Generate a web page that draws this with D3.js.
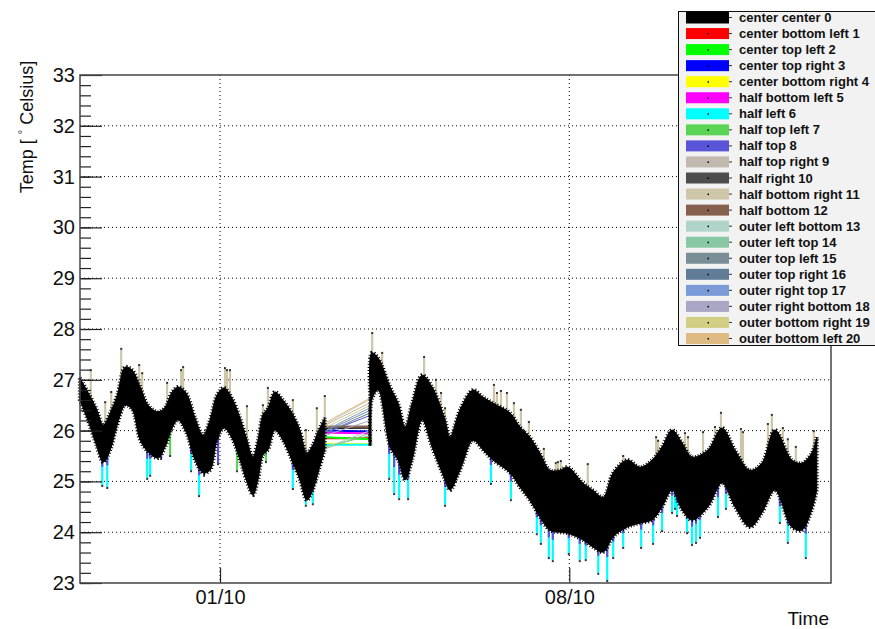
<!DOCTYPE html>
<html lang="en">
<head>
<meta charset="UTF-8">
<title>Temperature vs time</title>
<script src="https://d3js.org/d3.v7.min.js"></script>
<style>
  body { margin: 0; background: #fff; }
  svg text { font-family: "Liberation Sans", Arial, Helvetica, sans-serif; }
  .grid line { stroke: #000; stroke-width: 1; stroke-dasharray: 1,3; }
  .legend text { font-weight: bold; font-size: 13px; fill: #111; }
</style>
</head>
<body>
<div id="chart"></div>
<script>
// ---- data (time = days since 01/10 00:00, temp in deg C) ----
var seriesNames = ["center center 0", "center bottom left 1", "center top left 2", "center top right 3",
  "center bottom right 4", "half bottom left 5", "half left 6", "half top left 7", "half top 8",
  "half top right 9", "half right 10", "half bottom right 11", "half bottom 12", "outer left bottom 13",
  "outer left top 14", "outer top left 15", "outer top right 16", "outer right top 17",
  "outer right bottom 18", "outer bottom right 19", "outer bottom left 20"];
var seriesColors = ["#000000", "#ff0000", "#00ff00", "#0000ff", "#ffff00", "#ff00ff", "#00ffff",
  "#59d454", "#5954d8", "#c2b9ae", "#4d4d4d", "#cdc6a8", "#875f4f", "#b0d4c9", "#88c8a2",
  "#7a8e98", "#607c96", "#7b9bd8", "#a8a6c4", "#d2cf85", "#dfbb84"];

// upper / lower edge of the (overlapping) bundle of all sensors
var bandTime = [-2.81, -2.65, -2.48, -2.34, -2.20, -2.06, -1.90, -1.76, -1.60, -1.44, -1.24, -1.10,
  -0.96, -0.84, -0.68, -0.50, -0.34, -0.20, -0.06, 0.08, 0.24, 0.40, 0.54, 0.66, 0.76, 0.86, 0.96,
  1.10, 1.26, 1.44, 1.60, 1.74, 1.86, 1.98, 2.10,
  3.01, 3.04, 3.17, 3.41, 3.57, 3.71, 3.85, 4.05, 4.25, 4.51, 4.61, 4.81, 5.07, 5.27, 5.47, 5.81,
  6.01, 6.21, 6.41, 6.61, 6.81, 6.97, 7.27, 7.47, 7.68, 7.88, 8.16, 8.42, 8.66, 8.86, 9.06, 9.26,
  9.46, 9.78, 10.06, 10.32, 10.62, 10.86, 11.12, 11.46, 11.66, 11.86, 11.96];
var bandHigh = [27.04, 26.76, 26.44, 26.11, 26.35, 26.70, 27.25, 27.19, 26.86, 26.50, 26.37, 26.46,
  26.76, 26.86, 26.74, 26.25, 25.91, 26.21, 26.70, 26.84, 26.64, 26.25, 25.81, 25.48, 25.81, 26.31, 26.44,
  26.76, 26.60, 26.35, 26.01, 25.56, 25.72, 26.01, 26.25,
  26.64, 27.53, 27.43, 26.86, 26.54, 26.07, 26.54, 27.09, 26.86, 26.21, 25.87, 26.41, 26.80, 26.66, 26.54, 26.35,
  26.07, 25.87, 25.56, 25.22, 25.22, 25.28, 24.97, 24.83, 24.69, 25.17, 25.42, 25.28, 25.42, 25.68, 26.01, 25.76,
  25.48, 25.62, 26.05, 25.62, 25.22, 25.36, 26.01, 25.42, 25.36, 25.56, 25.87];
var bandLow = [26.60, 26.21, 25.72, 25.38, 25.62, 26.11, 26.50, 26.41, 25.81, 25.58, 25.46, 25.68,
  26.05, 26.21, 25.97, 25.42, 25.17, 25.22, 25.81, 26.05, 25.85, 25.42, 24.99, 24.73, 25.03, 25.52, 25.62,
  26.01, 25.81, 25.42, 25.03, 24.63, 24.83, 25.22, 25.62,
  25.70, 26.60, 26.80, 25.68, 25.42, 25.03, 25.42, 26.21, 25.68, 25.03, 24.83, 25.22, 25.81, 25.62, 25.42, 25.17,
  24.89, 24.63, 24.30, 24.04, 24.00, 23.98, 23.85, 23.71, 23.61, 23.91, 24.10, 24.18, 24.24, 24.50, 24.83, 24.44,
  24.24, 24.50, 24.97, 24.50, 24.10, 24.38, 24.83, 24.10, 24.04, 24.44, 24.83];

// no data between these two times, every sensor is joined by a straight line
var gapFrom = 2.10, gapTo = 3.01;
var gapStartTemp = [26.05, 25.85, 25.87, 26.00, 25.74, 25.96, 25.72, 25.68, 25.95, 26.10, 26.07,
  26.12, 26.08, 25.66, 25.64, 25.98, 25.95, 26.00, 25.90, 26.05, 26.15];
var gapEndTemp = [26.05, 25.85, 25.83, 25.98, 25.73, 25.95, 25.72, 25.90, 26.30, 26.55, 26.05,
  26.62, 26.08, 26.00, 25.95, 26.40, 26.35, 26.45, 26.20, 26.50, 26.64];

// single-reading glitches above the bundle (half bottom right 11)
var upTime = [-2.59, -2.30, -2.18, -1.98, -1.62, -1.56, -1.06, -0.78, -0.74, -0.18, -0.10, 0.10, 0.14,
  0.20, 0.54, 0.86, 0.96, 1.46, 1.72, 1.94, 2.10, 3.05, 3.25, 4.09, 4.33, 4.43, 4.51, 5.49, 5.55, 5.63,
  5.75, 5.89, 6.03, 6.19, 6.49, 6.73, 6.77, 6.83, 7.37, 8.08, 8.74, 8.78, 9.32, 9.38, 9.68, 9.92, 10.04,
  10.44, 10.48, 10.98, 11.06, 11.28, 11.38, 11.54, 11.90];
var upTemp = [27.19, 26.56, 26.76, 27.61, 27.29, 27.13, 26.94, 27.19, 27.25, 26.29, 26.54, 27.23, 27.19,
  27.19, 26.48, 26.50, 26.84, 26.60, 26.01, 26.44, 26.68, 27.92, 27.53, 27.45, 27.00, 26.74, 26.44, 26.90,
  26.74, 26.78, 26.74, 26.54, 26.41, 26.17, 25.64, 25.36, 25.38, 25.40, 25.34, 25.50, 25.87, 25.80, 25.95,
  25.87, 25.97, 26.07, 26.35, 26.03, 25.97, 26.13, 26.31, 26.05, 25.83, 25.68, 25.99];

// glitches below the bundle (mostly half left 6)
var downTime = [-2.36, -2.26, -1.46, -1.40, -1.18, -1.00, -0.58, -0.42, -0.32, -0.04, 0.34, 0.92, 1.46,
  1.72, 1.86, 3.39, 3.49, 3.59, 3.77, 4.51, 5.43, 5.83, 6.35, 6.43, 6.59, 6.67, 6.99, 7.21, 7.33, 7.58,
  7.76, 7.88, 8.08, 8.44, 8.68, 8.86, 9.06, 9.12, 9.16, 9.36, 9.46, 9.54, 9.62, 9.98, 10.14, 11.22, 11.38, 11.74];
var downTemp = [24.93, 24.89, 25.07, 25.13, 25.46, 25.52, 25.22, 24.73, 25.13, 25.36, 25.22, 25.40, 24.87,
  24.54, 24.57, 25.07, 24.77, 24.67, 24.67, 24.54, 24.97, 24.65, 23.98, 23.79, 23.51, 23.45, 23.59, 23.45,
  23.47, 23.20, 23.06, 23.51, 23.71, 23.71, 23.79, 24.04, 24.40, 24.48, 24.34, 24.00, 23.77, 23.81, 23.91,
  24.32, 24.48, 24.20, 23.81, 23.51];
var downSeries = [6, 6, 6, 6, 8, 7, 6, 6, 8, 8, 7, 7, 6, 6, 6, 6, 6, 6, 6, 6, 6, 6, 6, 6, 6, 6, 6, 6, 6, 6,
  6, 6, 6, 6, 6, 6, 6, 6, 6, 6, 6, 6, 6, 6, 6, 6, 6, 6];

var yTicks = [23, 24, 25, 26, 27, 28, 29, 30, 31, 32, 33];
var xTickDays = [0, 7];
var xTickLabels = ["01/10", "08/10"];

// ---- layout ----
var W = 875, H = 629;
var margin = {top: 75, right: 44, bottom: 46, left: 80},
    width = W - margin.left - margin.right,
    height = H - margin.top - margin.bottom;

var svg = d3.select("#chart").append("svg")
    .attr("width", W).attr("height", H);
svg.append("rect").attr("width", W).attr("height", H).attr("fill", "#fff");

var g = svg.append("g")
    .attr("transform", "translate(" + margin.left + "," + margin.top + ")");

var x = d3.scaleLinear().domain([-2.806, 12.245]).range([0, width]);
var y = d3.scaleLinear().domain([23, 33]).range([height, 0]);

// grid
var grid = g.append("g").attr("class", "grid");
grid.selectAll(".hg").data(yTicks.slice(1, -1)).enter().append("line")
    .attr("x1", 0).attr("x2", width)
    .attr("y1", function(d) { return y(d); }).attr("y2", function(d) { return y(d); });
grid.selectAll(".vg").data(xTickDays).enter().append("line")
    .attr("y1", 0).attr("y2", height)
    .attr("x1", function(d) { return x(d); }).attr("x2", function(d) { return x(d); });

// helper to find the bundle edge at time t (only used to anchor the glitch lines)
var band = bandTime.map(function(t, i) { return {t: t, hi: bandHigh[i], lo: bandLow[i]}; });
var bis = d3.bisector(function(d) { return d.t; }).left;
function edgeAt(t, key) {
  var i = Math.max(1, Math.min(band.length - 1, bis(band, t)));
  var a = band[i - 1], b = band[i];
  var f = (t - a.t) / (b.t - a.t);
  return a[key] + (b[key] - a[key]) * Math.max(0, Math.min(1, f));
}

var plot = g.append("g");

// up glitches
upTime.forEach(function(t, i) {
  var base = edgeAt(t, "hi") - 0.15;
  plot.append("line")
    .attr("x1", x(t)).attr("x2", x(t))
    .attr("y1", y(base)).attr("y2", y(upTemp[i]))
    .attr("stroke", seriesColors[11]).attr("stroke-width", 2.2);
  plot.append("rect")
    .attr("x", x(t) - 1).attr("y", y(upTemp[i]) - 1)
    .attr("width", 2).attr("height", 2).attr("fill", "#333");
});

// down glitches
downTime.forEach(function(t, i) {
  var base = edgeAt(t, "lo") + 0.15;
  var s = downSeries[i];
  plot.append("line")
    .attr("x1", x(t)).attr("x2", x(t))
    .attr("y1", y(base)).attr("y2", y(downTemp[i]))
    .attr("stroke", seriesColors[s]).attr("stroke-width", 2.2);
  if (s == 6) {
    // the neighbouring sensors dip too, shows as a blue part near the bundle
    var mid = base - (base - downTemp[i]) * 0.45;
    plot.append("line")
      .attr("x1", x(t)).attr("x2", x(t))
      .attr("y1", y(base)).attr("y2", y(mid))
      .attr("stroke", seriesColors[8]).attr("stroke-width", 2.2);
  }
  plot.append("rect")
    .attr("x", x(t) - 1).attr("y", y(downTemp[i]))
    .attr("width", 2).attr("height", 2).attr("fill", "#333");
});

// gap lines
seriesNames.forEach(function(n, i) {
  plot.append("line")
    .attr("x1", x(gapFrom)).attr("x2", x(gapTo))
    .attr("y1", y(gapStartTemp[i])).attr("y2", y(gapEndTemp[i]))
    .attr("stroke", seriesColors[i])
    .attr("stroke-width", i < 7 || i == 10 || i == 12 ? 2 : 1);
});
plot.append("line")
  .attr("x1", x(gapTo)).attr("x2", x(gapTo))
  .attr("y1", y(d3.min(gapEndTemp))).attr("y2", y(d3.max(gapEndTemp)))
  .attr("stroke", "#000").attr("stroke-width", 1.5);

// the bundle itself
var area = d3.area()
    .curve(d3.curveCatmullRom.alpha(0.5))
    .x(function(d) { return x(d.t); })
    .y0(function(d) { return y(d.lo); })
    .y1(function(d) { return y(d.hi); });
var segA = band.filter(function(d) { return d.t <= gapFrom; });
var segB = band.filter(function(d) { return d.t >= gapTo; });
[segA, segB].forEach(function(seg) {
  plot.append("path").datum(seg)
    .attr("d", area)
    .attr("fill", "#000").attr("stroke", "#000").attr("stroke-width", 1);
  // ragged edge, the many sensors never line up exactly
  plot.append("path").datum(seg)
    .attr("d", area)
    .attr("fill", "none").attr("stroke", "#000").attr("stroke-width", 4)
    .attr("stroke-dasharray", "1,2");
});

// axes
var yAxis = g.append("g")
    .call(d3.axisLeft(y).tickValues(yTicks).tickSize(-22).tickPadding(5));
var yMinor = g.append("g")
    .call(d3.axisLeft(y).tickValues(d3.range(23, 33, 0.2)).tickSize(-11).tickFormat(""));
var xAxis = g.append("g")
    .attr("transform", "translate(0," + height + ")")
    .call(d3.axisBottom(x).tickValues(xTickDays).tickSize(-15).tickPadding(7)
      .tickFormat(function(d, i) { return xTickLabels[i]; }));
[yAxis, yMinor, xAxis].forEach(function(a) {
  a.select(".domain").remove();
  a.selectAll("line").attr("stroke", "#222").attr("stroke-width", 1.2);
  a.selectAll("text").attr("font-size", 20).attr("fill", "#111")
    .attr("font-family", "Liberation Sans, Arial, sans-serif");
});

g.append("rect")
  .attr("width", width).attr("height", height)
  .attr("fill", "none").attr("stroke", "#444").attr("stroke-width", 1.5);

// titles
svg.append("text")
  .attr("x", 829).attr("y", 625)
  .attr("text-anchor", "end").attr("font-size", 19).attr("fill", "#111")
  .text("Time");
var yt = svg.append("text")
  .attr("transform", "translate(33,127) rotate(-90)")
  .attr("text-anchor", "middle").attr("font-size", 18).attr("fill", "#111");
yt.append("tspan").text("Temp [ ");
yt.append("tspan").attr("dy", -7).attr("font-size", 11).text("\u00b0");
yt.append("tspan").attr("dy", 7).text(" Celsius]");

// legend
var leg = svg.append("g").attr("class", "legend");
leg.append("rect")
  .attr("x", 678.5).attr("y", 11.5).attr("width", 210).attr("height", 334)
  .attr("fill", "#f2f2f2").attr("stroke", "#111").attr("stroke-width", 1);
seriesNames.forEach(function(n, i) {
  var cy = 17.5 + i * 16.05;
  leg.append("rect")
    .attr("x", 686).attr("y", cy - (i == 0 ? 6 : 5.5))
    .attr("width", 43).attr("height", i == 0 ? 12 : 11)
    .attr("fill", seriesColors[i]);
  leg.append("line")
    .attr("x1", 729).attr("x2", 732).attr("y1", cy).attr("y2", cy)
    .attr("stroke", "#333").attr("stroke-width", 1);
  leg.append("rect")
    .attr("x", 707.5).attr("y", cy - 0.5).attr("width", 1.5).attr("height", 1.5)
    .attr("fill", "#000");
  leg.append("text")
    .attr("x", 739).attr("y", cy + 4.5)
    .attr("font-size", 13.3)
    .text(n);
});
</script>
</body>
</html>
